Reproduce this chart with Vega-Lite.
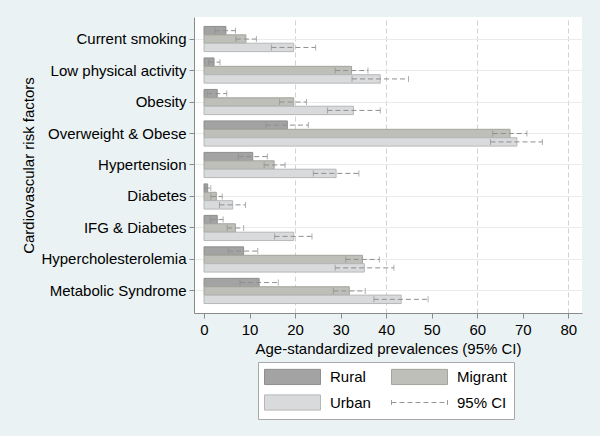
{
  "$schema": "https://vega.github.io/schema/vega-lite/v6.json",
  "width": 388,
  "height": 296,
  "autosize": "none",
  "padding": {"left": 194, "top": 17, "right": 18, "bottom": 123},
  "background": "#eaf2f3",
  "config": {
    "font": "Liberation Sans",
    "view": {"fill": "white", "stroke": null}
  },
  "data": {
    "values": [
      {"factor": "Current smoking", "group": "Rural", "value": 4.8, "lo": 2.4, "hi": 6.9},
      {"factor": "Current smoking", "group": "Migrant", "value": 9.2, "lo": 7.0, "hi": 11.5},
      {"factor": "Current smoking", "group": "Urban", "value": 19.7, "lo": 14.8, "hi": 24.5},
      {"factor": "Low physical activity", "group": "Rural", "value": 2.2, "lo": 1.0, "hi": 3.5},
      {"factor": "Low physical activity", "group": "Migrant", "value": 32.4, "lo": 28.8, "hi": 36.0},
      {"factor": "Low physical activity", "group": "Urban", "value": 38.7, "lo": 32.5, "hi": 44.9},
      {"factor": "Obesity", "group": "Rural", "value": 2.9, "lo": 0.7, "hi": 5.0},
      {"factor": "Obesity", "group": "Migrant", "value": 19.7, "lo": 16.6, "hi": 22.5},
      {"factor": "Obesity", "group": "Urban", "value": 32.8, "lo": 27.1, "hi": 38.7},
      {"factor": "Overweight & Obese", "group": "Rural", "value": 18.3, "lo": 13.6, "hi": 22.9},
      {"factor": "Overweight & Obese", "group": "Migrant", "value": 67.2, "lo": 63.4, "hi": 70.9},
      {"factor": "Overweight & Obese", "group": "Urban", "value": 68.7, "lo": 62.9, "hi": 74.3},
      {"factor": "Hypertension", "group": "Rural", "value": 10.7, "lo": 7.5, "hi": 13.9},
      {"factor": "Hypertension", "group": "Migrant", "value": 15.4, "lo": 13.2, "hi": 17.8},
      {"factor": "Hypertension", "group": "Urban", "value": 29.0, "lo": 24.0, "hi": 34.0},
      {"factor": "Diabetes", "group": "Rural", "value": 0.8, "lo": 0.2, "hi": 1.5},
      {"factor": "Diabetes", "group": "Migrant", "value": 2.7, "lo": 1.5, "hi": 4.0},
      {"factor": "Diabetes", "group": "Urban", "value": 6.3, "lo": 3.4, "hi": 9.1},
      {"factor": "IFG & Diabetes", "group": "Rural", "value": 2.9, "lo": 1.4, "hi": 4.2},
      {"factor": "IFG & Diabetes", "group": "Migrant", "value": 6.9, "lo": 5.1, "hi": 8.7},
      {"factor": "IFG & Diabetes", "group": "Urban", "value": 19.7, "lo": 15.5, "hi": 23.7},
      {"factor": "Hypercholesterolemia", "group": "Rural", "value": 8.7, "lo": 5.3, "hi": 11.8},
      {"factor": "Hypercholesterolemia", "group": "Migrant", "value": 34.8, "lo": 31.1, "hi": 38.5},
      {"factor": "Hypercholesterolemia", "group": "Urban", "value": 35.2, "lo": 28.8, "hi": 41.7},
      {"factor": "Metabolic Syndrome", "group": "Rural", "value": 12.1, "lo": 7.9, "hi": 16.3},
      {"factor": "Metabolic Syndrome", "group": "Migrant", "value": 31.9, "lo": 28.4, "hi": 35.4},
      {"factor": "Metabolic Syndrome", "group": "Urban", "value": 43.3, "lo": 37.3, "hi": 49.2}
    ]
  },
  "encoding": {
    "y": {
      "field": "factor",
      "type": "nominal",
      "sort": ["Current smoking", "Low physical activity", "Obesity", "Overweight & Obese", "Hypertension", "Diabetes", "IFG & Diabetes", "Hypercholesterolemia", "Metabolic Syndrome"],
      "scale": {"paddingInner": 0.2, "paddingOuter": 0.3},
      "axis": {
        "title": "Cardiovascular risk factors",
        "titleFontSize": 15,
        "titleFontWeight": "normal",
        "titleColor": "black",
        "titlePadding": 4,
        "labelFontSize": 15,
        "labelColor": "black",
        "labelPadding": 3,
        "labelLimit": 200,
        "tickSize": 5,
        "tickColor": "#8a8a8a",
        "domainColor": "#8a8a8a",
        "bandPosition": 0.5,
        "grid": true,
        "gridColor": "#ebebeb"
      }
    },
    "yOffset": {
      "field": "group",
      "type": "nominal",
      "sort": ["Rural", "Migrant", "Urban"],
      "scale": {"domain": ["Rural", "Migrant", "Urban"], "paddingInner": 0, "paddingOuter": 0}
    }
  },
  "layer": [
    {
      "mark": {"type": "bar", "strokeWidth": 1},
      "encoding": {
        "x": {
          "field": "value",
          "type": "quantitative",
          "scale": {"domain": [-2.2, 83], "nice": false, "zero": false},
          "axis": {
            "title": "Age-standardized prevalences (95% CI)",
            "values": [0, 10, 20, 30, 40, 50, 60, 70, 80],
            "titleFontSize": 15,
            "titleFontWeight": "normal",
            "titleColor": "black",
            "titlePadding": 4,
            "labelFontSize": 15,
            "labelColor": "black",
            "labelPadding": 4,
            "tickSize": 5,
            "tickColor": "#8a8a8a",
            "domainColor": "#8a8a8a",
            "grid": true,
            "gridDash": [5, 3],
            "gridColor": "#d2d2d2",
            "gridOpacity": {"condition": {"test": "datum.value % 20 === 0 && datum.value > 0", "value": 1}, "value": 0}
          }
        },
        "color": {
          "field": "group",
          "type": "nominal",
          "scale": {"domain": ["Rural", "Migrant", "Urban", "95% CI"], "range": ["#a3a3a3", "#bebfb8", "#d9dadc", "#999999"]},
          "legend": {
            "orient": "none",
            "legendX": 64,
            "legendY": 345,
            "title": null,
            "columns": 2,
            "direction": "horizontal",
            "fillColor": "white",
            "strokeColor": "#a8a8a8",
            "padding": 6,
            "symbolType": "M-1,-0.95H6V0.95H-1Z",
            "symbolSize": 256,
            "labelFontSize": 15,
            "labelColor": "black",
            "labelOffset": 49,
            "columnPadding": 18,
            "rowPadding": 5,
            "encode": {
              "symbols": {
                "update": {
                  "shape": [{"test": "datum.value === '95% CI'", "value": "M-1,-0.3V0.3M-1,0H6M6,-0.3V0.3"}, {"value": "M-1,-0.95H6V0.95H-1Z"}],
                  "fillOpacity": [{"test": "datum.value === '95% CI'", "value": 0}, {"value": 1}],
                  "stroke": [{"test": "datum.value === '95% CI'", "value": "#999999"}, {"test": "datum.value === 'Rural'", "value": "#8e8e8e"}, {"test": "datum.value === 'Migrant'", "value": "#a3a49d"}, {"value": "#b6b7b9"}],
                  "strokeDash": [{"test": "datum.value === '95% CI'", "value": [5, 3]}, {"value": []}],
                  "strokeWidth": {"value": 1}
                }
              }
            }
          }
        },
        "stroke": {
          "field": "group",
          "type": "nominal",
          "scale": {"domain": ["Rural", "Migrant", "Urban"], "range": ["#8e8e8e", "#a3a49d", "#b6b7b9"]},
          "legend": null
        }
      }
    },
    {
      "mark": {"type": "rule", "strokeDash": [5, 3], "color": "#8f8f8f", "strokeWidth": 1},
      "encoding": {
        "x": {"field": "lo", "type": "quantitative"},
        "x2": {"field": "hi"}
      }
    },
    {
      "transform": [{"fold": ["lo", "hi"], "as": ["end", "v"]}],
      "mark": {"type": "tick", "thickness": 1, "size": 6, "color": "#8f8f8f"},
      "encoding": {
        "x": {"field": "v", "type": "quantitative"}
      }
    }
  ]
}
